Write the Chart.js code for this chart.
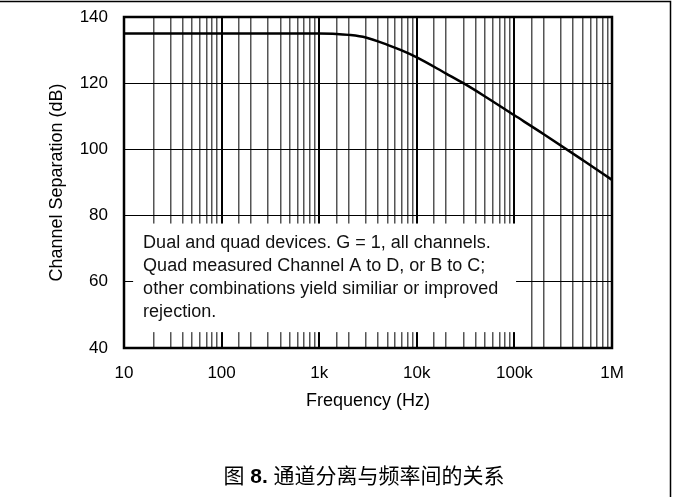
<!DOCTYPE html>
<html lang="zh">
<head>
  <meta charset="UTF-8" />
  <title>Channel Separation vs Frequency</title>
  <script src="https://cdn.jsdelivr.net/npm/chart.js"></script>
  <style>
    html, body {
      margin: 0;
      padding: 0;
      background: #fff;
    }
    #chart-container {
      width: 673px;
      height: 497px;
    }
  </style>
</head>
<body>
  <div id="chart-container">
    <canvas id="sepChart" width="673" height="497"></canvas>
  </div>

  <script>
    // values
    const frequencies = [10, 100, 1000, 1500, 2000, 3000, 5000, 7000, 10000, 20000, 30000, 50000, 100000, 200000, 500000, 1000000];
    const separation = [135, 135, 135, 134.9, 134.6, 133.8, 131.6, 129.9, 127.8, 122.9, 120, 116, 110.3, 104.6, 96.8, 90.8];

    const xTickValues = [10, 100, 1000, 10000, 100000, 1000000];
    const xTickLabels = ['10', '100', '1k', '10k', '100k', '1M'];
    const yTickValues = [40, 60, 80, 100, 120, 140];

    const noteLines = [
      'Dual and quad devices. G = 1, all channels.',
      'Quad measured Channel A to D, or B to C;',
      'other combinations yield similiar or improved',
      'rejection.'
    ];
    const captionParts = ['图 ', '8.', ' 通道分离与频率间的关系'];

    const FONT = 'Arial, "Liberation Sans", sans-serif';

    function isDecade(v) {
      const e = Math.log10(v);
      return Math.abs(e - Math.round(e)) < 1e-9;
    }

    // white note box, frame, page border and caption
    const decorations = {
      id: 'decorations',
      beforeDatasetsDraw(chart) {
        const { ctx, scales: { x, y } } = chart;
        const left = x.getPixelForValue(12.4);
        const right = x.getPixelForValue(104000);
        const top = y.getPixelForValue(77.6);
        const bottom = y.getPixelForValue(44.8);
        ctx.save();
        ctx.fillStyle = '#fff';
        ctx.fillRect(left, top, right - left, bottom - top);
        ctx.fillStyle = '#111';
        ctx.font = '18px ' + FONT;
        ctx.textBaseline = 'middle';
        ctx.textAlign = 'left';
        noteLines.forEach((line, i) => {
          ctx.fillText(line, left + 10, top + 19 + i * 23);
        });
        ctx.restore();
      },
      afterDraw(chart) {
        const { ctx, chartArea: a } = chart;
        ctx.save();
        ctx.strokeStyle = '#000';
        ctx.lineWidth = 2.5;
        ctx.strokeRect(a.left, a.top, a.right - a.left, a.bottom - a.top);

        ctx.lineWidth = 1.5;
        ctx.beginPath();
        ctx.moveTo(0, 1.5);
        ctx.lineTo(670.5, 1.5);
        ctx.lineTo(670.5, 497);
        ctx.stroke();

        const fonts = ['21px ' + FONT + ', "Noto Sans CJK SC"', 'bold 21px ' + FONT, '21px ' + FONT + ', "Noto Sans CJK SC"'];
        let total = 0;
        const widths = captionParts.map((t, i) => {
          ctx.font = fonts[i];
          const w = ctx.measureText(t).width;
          total += w;
          return w;
        });
        let cx = 364 - total / 2;
        ctx.fillStyle = '#000';
        ctx.textBaseline = 'middle';
        ctx.textAlign = 'left';
        captionParts.forEach((t, i) => {
          ctx.font = fonts[i];
          ctx.fillText(t, cx, 477);
          cx += widths[i];
        });
        ctx.restore();
      }
    };

    const ctx = document.getElementById('sepChart').getContext('2d');
    new Chart(ctx, {
      type: 'line',
      data: {
        datasets: [{
          data: frequencies.map((f, i) => ({ x: f, y: separation[i] })),
          borderColor: '#000',
          borderWidth: 2.5,
          pointRadius: 0,
          fill: false,
          cubicInterpolationMode: 'monotone'
        }]
      },
      options: {
        responsive: false,
        animation: false,
        devicePixelRatio: 1,
        layout: {
          padding: { top: 17, right: 61, left: 0, bottom: 0 }
        },
        scales: {
          x: {
            type: 'logarithmic',
            min: 10,
            max: 1000000,
            afterFit(scale) { scale.height = 149; },
            border: { display: false },
            grid: {
              drawTicks: false,
              color: c => isDecade(c.tick.value) ? '#000' : '#555',
              lineWidth: c => isDecade(c.tick.value) ? 2 : 1.5
            },
            ticks: {
              autoSkip: false,
              maxRotation: 0,
              padding: 15,
              color: '#000',
              font: { family: FONT, size: 17 },
              callback: v => {
                const i = xTickValues.findIndex(t => Math.abs(t - v) < 1e-6 * t);
                return i >= 0 ? xTickLabels[i] : '';
              }
            },
            title: {
              display: true,
              text: 'Frequency (Hz)',
              color: '#000',
              font: { family: FONT, size: 18 },
              padding: { top: 0, bottom: 85 }
            }
          },
          y: {
            min: 40,
            max: 140,
            afterFit(scale) { scale.width = 124; },
            afterBuildTicks(scale) { scale.ticks = yTickValues.map(v => ({ value: v })); },
            border: { display: false },
            grid: {
              drawTicks: true,
              tickLength: 16,
              tickColor: 'rgba(0,0,0,0)',
              color: '#000',
              lineWidth: 1
            },
            ticks: {
              padding: 0,
              color: '#000',
              font: { family: FONT, size: 17 }
            },
            title: {
              display: true,
              text: 'Channel Separation (dB)',
              color: '#000',
              font: { family: FONT, size: 18 },
              padding: { top: 46, bottom: 0 }
            }
          }
        },
        plugins: {
          legend: { display: false },
          tooltip: { enabled: false }
        }
      },
      plugins: [decorations]
    });
  </script>
</body>
</html>
